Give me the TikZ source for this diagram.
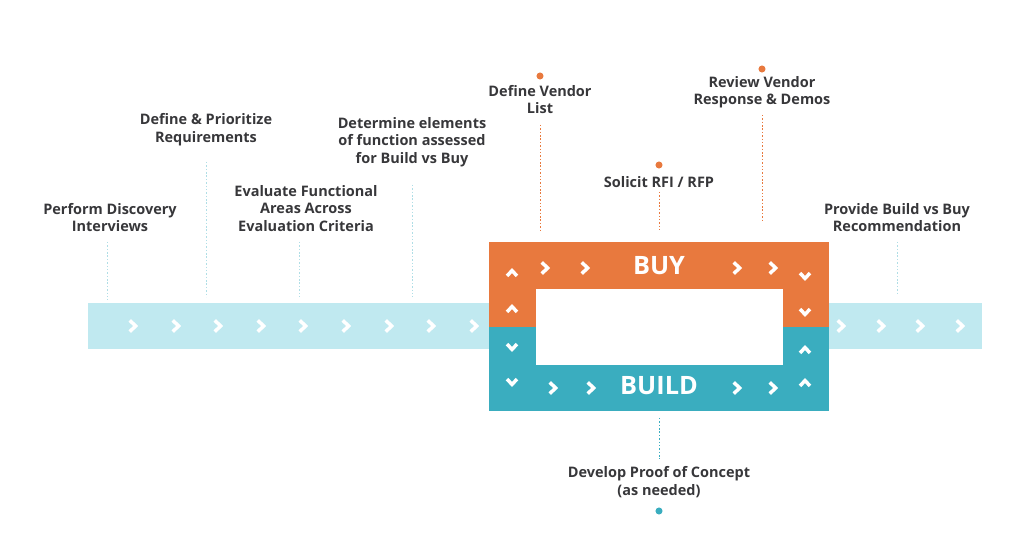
\documentclass[tikz,border=0pt]{standalone}
\usepackage{fontspec}
\setmainfont{Open Sans}
\definecolor{buyorange}{RGB}{232,121,62}
\definecolor{buildteal}{RGB}{58,173,191}
\definecolor{bandblue}{RGB}{192,233,240}
\definecolor{guideblue}{RGB}{175,222,230}
\definecolor{labelgray}{RGB}{55,55,58}
\tikzset{
  label text/.style={font=\fontsize{10.3}{12.4}\selectfont\bfseries, text=labelgray, align=center, inner sep=0pt},
  big text/.style={font=\fontsize{18}{20}\selectfont\bfseries, text=white, inner sep=0pt},
  guide/.style={dash pattern=on 1pt off 1.4pt, line width=0.7pt},
  dot/.style={circle, inner sep=0pt, minimum size=5pt},
  chev/.pic={\draw[white, line width=2.5pt, line join=miter] (-3.2,-5.6) -- (2.6,0) -- (-3.2,5.6);}
}
\begin{document}
\begin{tikzpicture}[x=0.025cm, y=-0.025cm]
\useasboundingbox (0,0) rectangle (1024,536);
\def\bandtop{303}
\def\bandbot{349}

% band and the buy / build box
\fill[bandblue] (88,\bandtop) rectangle (982,\bandbot);
\fill[buyorange] (489,242) rectangle (829,327);
\fill[buildteal] (489,327) rectangle (829,411);
\fill[white] (536,289) rectangle (783,365);

\foreach \x in {133,176,218,261,303,346,389,431,474,841,881,920,960}
  \pic at (\x,326) {chev};
\foreach \x in {545,585,737,773}
  \pic at (\x,268) {chev};
\foreach \x in {553,591,737,773}
  \pic at (\x,388) {chev};
\foreach \y in {273,309}
  \pic[rotate=90, scale=0.9] at (512,\y) {chev};
\foreach \y in {347,382}
  \pic[rotate=-90, scale=0.9] at (512,\y) {chev};
\foreach \y in {276,312}
  \pic[rotate=-90, scale=0.9] at (805,\y) {chev};
\foreach \y in {350,383}
  \pic[rotate=90, scale=0.9] at (805,\y) {chev};

\node[big text] (buy) at (659,266) {BUY};
\node[big text] (build) at (659,386) {BUILD};

% steps along the band
\node[label text] (perform) at (110,217.5) {Perform Discovery\\Interviews};
\node[label text] (prioritize) at (206,129.5) {Define \& Prioritize\\Requirements};
\node[label text] (evaluate) at (306,208.5) {Evaluate Functional\\Areas Across\\Evaluation Criteria};
\node[label text] (determine) at (412,142) {Determine elements\\of function assessed\\for Build vs Buy};
\node[label text] (provide) at (897,217.5) {Provide Build vs Buy\\Recommendation};

\coordinate (perform-a) at (107,242);    \coordinate (perform-b) at (107,300);
\coordinate (prioritize-a) at (206,162); \coordinate (prioritize-b) at (206,297);
\coordinate (evaluate-a) at (299,242);   \coordinate (evaluate-b) at (299,297);
\coordinate (determine-a) at (412,185);  \coordinate (determine-b) at (412,297);
\coordinate (provide-a) at (897,242);    \coordinate (provide-b) at (897,295);
\foreach \n in {perform,prioritize,evaluate,determine,provide}
  \draw[guide, guideblue] (\n-a) -- (\n-b);

% buy steps
\node[dot, fill=buyorange] (vendor-dot) at (540,76) {};
\node[label text] (vendor) at (540,99.5) {Define Vendor\\List};
\node[dot, fill=buyorange] (solicit-dot) at (659,165) {};
\node[label text] (solicit) at (659,182) {Solicit RFI / RFP};
\node[dot, fill=buyorange] (review-dot) at (762,69) {};
\node[label text] (review) at (762,92.5) {Review Vendor\\Response \& Demos};

\coordinate (vendor-a) at (540,125);  \coordinate (vendor-b) at (540,230);
\coordinate (solicit-a) at (659,192); \coordinate (solicit-b) at (659,230);
\coordinate (review-a) at (762,115);  \coordinate (review-b) at (762,220);
\foreach \n in {vendor,solicit,review}
  \draw[guide, buyorange] (\n-a) -- (\n-b);

% build step
\node[label text] (proof) at (659,482) {Develop Proof of Concept\\(as needed)};
\node[dot, fill=buildteal] (proof-dot) at (659,511) {};
\coordinate (proof-a) at (659,418); \coordinate (proof-b) at (659,459);
\draw[guide, buildteal] (proof-a) -- (proof-b);
\end{tikzpicture}
\end{document}
